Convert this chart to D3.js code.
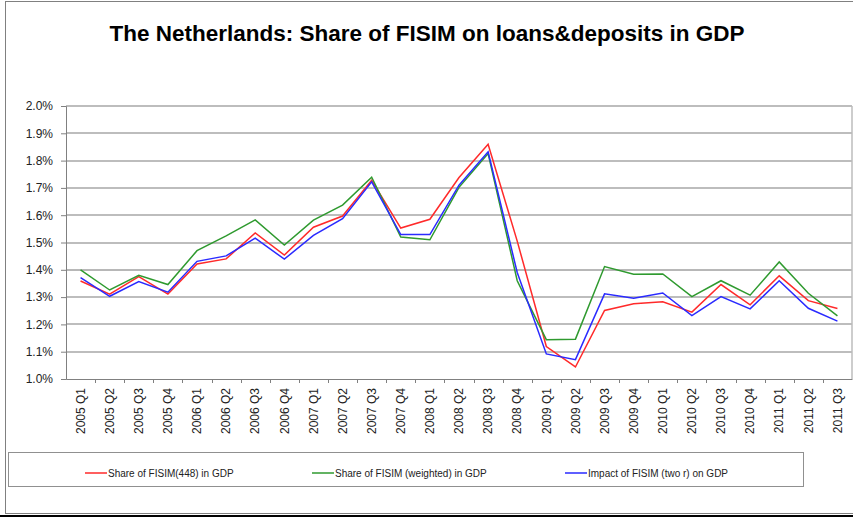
<!DOCTYPE html>
<html>
<head>
<meta charset="utf-8">
<script src="https://cdn.jsdelivr.net/npm/d3@7"></script>
<style>
  html, body { margin: 0; padding: 0; background: #fff; }
  svg { display: block; font-family: Arial, "Liberation Sans", sans-serif; }
</style>
</head>
<body>
<svg id="chart" width="853" height="519"></svg>
<script>
const categories = ["2005 Q1","2005 Q2","2005 Q3","2005 Q4","2006 Q1","2006 Q2","2006 Q3","2006 Q4",
  "2007 Q1","2007 Q2","2007 Q3","2007 Q4","2008 Q1","2008 Q2","2008 Q3","2008 Q4",
  "2009 Q1","2009 Q2","2009 Q3","2009 Q4","2010 Q1","2010 Q2","2010 Q3","2010 Q4",
  "2011 Q1","2011 Q2","2011 Q3"];
const share448 = [1.359,1.311,1.375,1.311,1.421,1.440,1.535,1.454,1.556,1.597,1.728,1.553,1.585,1.738,1.860,1.505,1.119,1.044,1.251,1.276,1.283,1.245,1.346,1.272,1.378,1.287,1.258];
const shareWeighted = [1.400,1.326,1.380,1.346,1.470,1.524,1.583,1.491,1.582,1.637,1.739,1.520,1.510,1.702,1.826,1.360,1.144,1.146,1.412,1.384,1.385,1.302,1.360,1.307,1.429,1.314,1.231];
const impactTwoR = [1.371,1.303,1.357,1.318,1.431,1.451,1.516,1.439,1.526,1.587,1.722,1.529,1.529,1.710,1.832,1.390,1.092,1.071,1.312,1.296,1.315,1.232,1.302,1.257,1.360,1.259,1.212];
const yTicks = [1.0,1.1,1.2,1.3,1.4,1.5,1.6,1.7,1.8,1.9,2.0];
const seriesNames = ["Share of FISIM(448) in GDP","Share of FISIM (weighted) in GDP","Impact of FISIM (two r) on GDP"];
const seriesColors = ["#ff2a2a","#2f9a2f","#2a2aff"];
const title = "The Netherlands: Share of FISIM on loans&deposits in GDP";

const series = [share448, shareWeighted, impactTwoR].map((vals, i) => ({name: seriesNames[i], color: seriesColors[i], values: vals}));

const svg = d3.select("#chart");
const W = 853, H = 519;
const plot = {left: 66, right: 852, top: 106, bottom: 379};

// outer frame
svg.append("rect").attr("x", 5.5).attr("y", 1.5).attr("width", 900).attr("height", 512)
  .attr("fill", "none").attr("stroke", "#808080").attr("stroke-width", 1);
svg.append("line").attr("x1", 0).attr("x2", W).attr("y1", 516).attr("y2", 516)
  .attr("stroke", "#000").attr("stroke-width", 2);

// title
svg.append("text").attr("x", 427).attr("y", 41).attr("text-anchor", "middle")
  .attr("font-size", 22).attr("font-weight", "bold").attr("fill", "#000")
  .attr("textLength", 635).attr("lengthAdjust", "spacingAndGlyphs").text(title);

const x = d3.scaleBand().domain(categories).range([plot.left, plot.right]).padding(0);
const y = d3.scaleLinear().domain([1.0, 2.0]).range([plot.bottom, plot.top]);

// gridlines
const grid = svg.append("g");
grid.selectAll("line").data(yTicks.filter(t => t > 1.0)).join("line")
  .attr("x1", plot.left).attr("x2", plot.right)
  .attr("y1", d => Math.round(y(d))).attr("y2", d => Math.round(y(d)))
  .attr("stroke", d => Math.abs(d - 1.4) < 1e-9 ? "#707070" : "#bdbdbd")
  .attr("stroke-width", d => Math.abs(d - 1.4) < 1e-9 ? 1 : 2);

// right border of plot
svg.append("line").attr("x1", plot.right).attr("x2", plot.right).attr("y1", plot.top).attr("y2", plot.bottom)
  .attr("stroke", "#bdbdbd").attr("stroke-width", 1.5);

// y axis
const yAxis = svg.append("g").attr("transform", `translate(${plot.left},0)`)
  .call(d3.axisLeft(y).tickValues(yTicks).tickSize(5).tickPadding(8).tickFormat(d => d.toFixed(1) + "%"));
yAxis.select(".domain").attr("stroke", "#808080");
yAxis.selectAll(".tick line").attr("stroke", "#808080");
yAxis.selectAll("text").attr("font-size", 12).attr("fill", "#222").attr("font-family", "Arial, 'Liberation Sans', sans-serif");

// x axis
const xAxis = svg.append("g").attr("transform", `translate(0,${plot.bottom})`)
  .call(d3.axisBottom(x).tickSize(0).tickFormat(d => d));
xAxis.select(".domain").attr("stroke", "#808080");
xAxis.selectAll(".tick text")
  .attr("font-size", 12).attr("fill", "#222").attr("font-family", "Arial, 'Liberation Sans', sans-serif")
  .attr("transform", "rotate(-90)").attr("text-anchor", "end")
  .attr("x", -9).attr("y", 0).attr("dy", "0.35em");
// category boundary ticks
svg.append("g").selectAll("line").data(categories.slice(1)).join("line")
  .attr("x1", d => Math.round(x(d)) + 0.5).attr("x2", d => Math.round(x(d)) + 0.5)
  .attr("y1", plot.bottom).attr("y2", plot.bottom + 4)
  .attr("stroke", "#808080");

// lines
const line = d3.line().x((d, i) => x(categories[i]) + x.bandwidth() / 2).y(d => y(d));
svg.append("g").selectAll("path").data(series).join("path")
  .attr("d", d => line(d.values)).attr("fill", "none")
  .attr("stroke", d => d.color).attr("stroke-width", 1.5).attr("stroke-linejoin", "miter");

// legend
svg.append("rect").attr("x", 8.5).attr("y", 452.5).attr("width", 795).attr("height", 34)
  .attr("fill", "#fff").attr("stroke", "#909090");
const legendX = [85, 312, 565];
const lg = svg.append("g").selectAll("g").data(series).join("g")
  .attr("transform", (d, i) => `translate(${legendX[i]},473)`);
lg.append("line").attr("x1", 0).attr("x2", 22).attr("y1", 0).attr("y2", 0)
  .attr("stroke", d => d.color).attr("stroke-width", 1.5);
lg.append("text").attr("x", 23).attr("y", 0).attr("dy", "0.35em")
  .attr("font-size", 10).attr("fill", "#222").text(d => d.name);
</script>
</body>
</html>
